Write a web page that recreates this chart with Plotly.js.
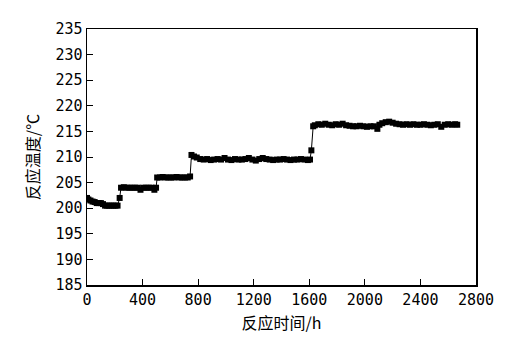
<!DOCTYPE html>
<html>
<head>
<meta charset="utf-8">
<script src="https://cdn.plot.ly/plotly-3.0.1.min.js"></script>
<style>html,body{margin:0;padding:0;background:#fff;}#chart{width:524px;height:343px;}</style>
</head>
<body>
<div id="chart"></div>
<script>
// Reaction time (h)
const timeH = [
  0,10,25,40,55,70,85,100,115,130,145,160,175,190,205,220,235,
  245,265,285,305,325,345,365,385,405,425,445,465,485,497,
  505,525,545,565,585,605,625,645,665,685,705,725,742,
  752,770,790,815,840,865,890,915,940,965,990,1015,1040,1065,1090,1115,1140,1165,1190,1215,1240,1265,1290,1315,1340,1365,1390,1415,1440,1465,1490,1515,1540,1565,1590,1605,
  1615,1628,
  1640,1665,1690,1715,1740,1765,1790,1815,1840,1865,1890,1915,1940,1965,1990,2015,2040,2065,2090,2105,2125,2150,2175,2200,2225,2250,2275,2300,2325,2350,2375,2400,2425,2450,2475,2500,2525,2550,2575,2600,2625,2650,2665
];
// Reaction temperature (°C)
const tempC = [
  202,201.7,201.5,201.3,201.2,201,201,201,200.8,200.5,200.5,200.5,200.5,200.5,200.5,200.5,202,
  204,204.1,204,204,204,204,204,203.6,204,204,204,204,203.6,204,
  206,206,206.1,206,206,206,206,206.1,206,206,206,206,206.2,
  210.4,210.1,209.9,209.6,209.5,209.6,209.4,209.5,209.6,209.5,209.8,209.5,209.4,209.6,209.5,209.5,209.6,209.8,209.5,209.3,209.6,209.8,209.6,209.5,209.4,209.5,209.5,209.6,209.5,209.4,209.5,209.5,209.6,209.5,209.4,209.5,
  211.3,216,
  216.2,216.4,216.3,216.5,216.3,216.2,216.4,216.3,216.5,216.2,216.1,216,216,216.1,216,215.9,216,216,215.5,216.3,216.6,216.8,216.9,216.7,216.5,216.4,216.3,216.4,216.3,216.4,216.3,216.3,216.4,216.3,216.2,216.3,216.4,215.9,216.3,216.4,216.3,216.4,216.3
];

const xTicks = [0,400,800,1200,1600,2000,2400,2800];
const yTicks = [185,190,195,200,205,210,215,220,225,230,235];

const numFont = {family: 'DejaVu Sans Mono, "Noto Sans CJK SC", monospace', size: 15, color: '#000'};
const cjkFont = {family: '"Noto Sans CJK SC", DejaVu Sans Mono', size: 16, color: '#000'};

Plotly.newPlot('chart', [{
  x: timeH, y: tempC, type: 'scatter', mode: 'lines+markers',
  line: {color: '#000', width: 1},
  marker: {symbol: 'square', size: 6, color: '#000'},
  hoverinfo: 'skip'
}], {
  width: 524, height: 343,
  margin: {l: 87, r: 48, t: 29, b: 58},
  paper_bgcolor: '#fff', plot_bgcolor: '#fff',
  showlegend: false,
  font: numFont,
  xaxis: {
    range: [0, 2800], tickmode: 'array', tickvals: xTicks,
    ticks: 'inside', ticklen: 6, tickwidth: 1, tickcolor: '#000',
    showline: true, linecolor: '#000', linewidth: 1.5, mirror: true,
    showgrid: false, zeroline: false, tickfont: numFont,
    title: {text: '反应时间/h', font: cjkFont, standoff: 10}
  },
  yaxis: {
    range: [185, 235], tickmode: 'array', tickvals: yTicks,
    ticks: 'inside', ticklen: 6, tickwidth: 1, tickcolor: '#000',
    showline: true, linecolor: '#000', linewidth: 1.5, mirror: true,
    showgrid: false, zeroline: false, tickfont: numFont,
    title: {text: '反应温度/℃', font: cjkFont, standoff: 12}
  }
}, {staticPlot: true, displayModeBar: false});
</script>
</body>
</html>
